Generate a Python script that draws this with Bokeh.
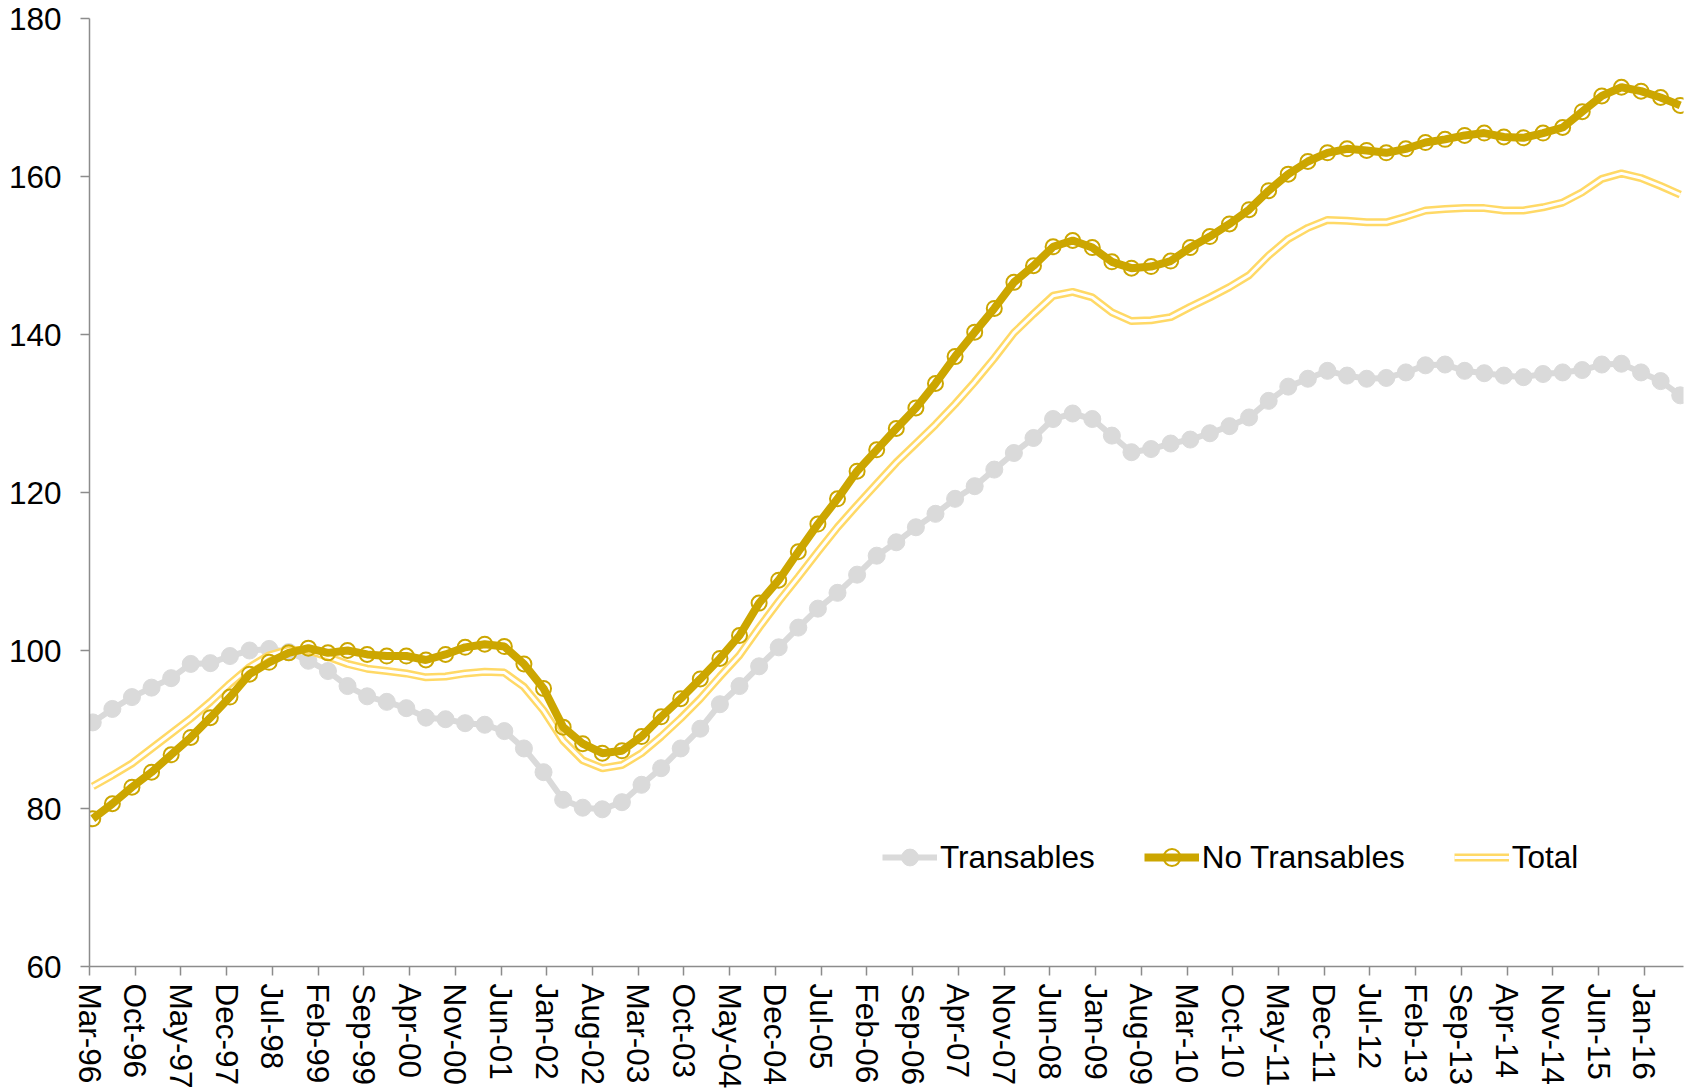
import pandas as pd
from bokeh.plotting import figure
from bokeh.models import FixedTicker, Range1d, Legend, LegendItem
from bokeh.embed import file_html
from bokeh.resources import INLINE

# Quarterly observations, Mar-96 .. Jun-16
quarters = pd.date_range("1996-03-01", "2016-06-01", freq="3MS")

transables = [
    90.9, 92.6, 94.1, 95.3, 96.5, 98.3, 98.4, 99.3, 100.0, 100.2,
    99.8, 98.7, 97.4, 95.5, 94.2, 93.5, 92.7, 91.5, 91.3, 90.8,
    90.6, 89.8, 87.6, 84.6, 81.1, 80.1, 79.9, 80.8, 83.0, 85.1,
    87.6, 90.1, 93.2, 95.5, 98.0, 100.4, 102.9, 105.3, 107.3, 109.6,
    112.0, 113.7, 115.6, 117.3, 119.2, 120.8, 122.9, 125.0, 126.9, 129.3,
    130.0, 129.3, 127.2, 125.1, 125.5, 126.2, 126.7, 127.5, 128.4, 129.5,
    131.6, 133.4, 134.4, 135.4, 134.8, 134.4, 134.5, 135.2, 136.1, 136.2,
    135.4, 135.1, 134.8, 134.6, 135.0, 135.2, 135.5, 136.2, 136.3, 135.2,
    134.1, 132.3,
]
no_transables = [
    78.7, 80.6, 82.7, 84.6, 86.8, 89.0, 91.5, 94.1, 97.0, 98.5,
    99.7, 100.3, 99.7, 100.0, 99.5, 99.3, 99.3, 98.8, 99.5, 100.4,
    100.8, 100.5, 98.3, 95.2, 90.3, 88.2, 87.0, 87.3, 89.1, 91.6,
    93.9, 96.4, 99.0, 101.9, 106.0, 108.9, 112.5, 116.0, 119.2, 122.7,
    125.4, 128.1, 130.7, 133.8, 137.2, 140.3, 143.3, 146.6, 148.7, 151.1,
    151.9, 151.0, 149.2, 148.4, 148.6, 149.3, 151.0, 152.4, 154.0, 155.8,
    158.2, 160.3, 161.9, 163.0, 163.5, 163.3, 163.0, 163.5, 164.3, 164.7,
    165.2, 165.5, 165.0, 164.9, 165.5, 166.2, 168.2, 170.2, 171.3, 170.8,
    170.0, 169.0,
]
total = [
    82.8, 84.2, 85.7, 87.6, 89.5, 91.4, 93.5, 95.8, 97.9, 99.4,
    100.1, 100.0, 99.2, 98.3, 97.7, 97.4, 97.1, 96.6, 96.7, 97.1,
    97.3, 97.2, 95.4, 92.4, 88.6, 86.1, 85.1, 85.5, 87.0, 89.1,
    91.4, 93.9, 96.7, 99.4, 102.9, 106.2, 109.3, 112.5, 115.6, 118.4,
    121.1, 123.8, 126.2, 128.6, 131.2, 134.0, 137.0, 140.2, 142.6, 144.9,
    145.4, 144.7, 142.8, 141.7, 141.8, 142.2, 143.5, 144.7, 146.0, 147.5,
    150.0, 152.1, 153.5, 154.5, 154.4, 154.2, 154.2, 154.9, 155.7, 155.9,
    156.0, 156.0, 155.7, 155.7, 156.1, 156.7, 158.0, 159.7, 160.4, 159.8,
    158.8, 157.7,
]

tick_labels = [
    "Mar-96", "Oct-96", "May-97", "Dec-97", "Jul-98", "Feb-99", "Sep-99",
    "Apr-00", "Nov-00", "Jun-01", "Jan-02", "Aug-02", "Mar-03", "Oct-03",
    "May-04", "Dec-04", "Jul-05", "Feb-06", "Sep-06", "Apr-07", "Nov-07",
    "Jun-08", "Jan-09", "Aug-09", "Mar-10", "Oct-10", "May-11", "Dec-11",
    "Jul-12", "Feb-13", "Sep-13", "Apr-14", "Nov-14", "Jun-15", "Jan-16",
]
y_ticks = [60, 80, 100, 120, 140, 160, 180]

# month index from Mar-96 (points sit in the middle of their month)
x = [(d.year - 1996) * 12 + (d.month - 3) + 0.5 for d in quarters]
tick_pos = [7 * i for i in range(len(tick_labels))]

FONT = "Liberation Sans"
FS = "31.5px"
GRAY = "#DADADA"
GOLD = "#CCA600"
LIGHT = "#FFD966"

p = figure(width=1690, height=1091, output_backend="svg", toolbar_location=None,
           x_range=Range1d(0, 244), y_range=Range1d(60, 180),
           min_border_left=89, min_border_right=7, min_border_top=18,
           min_border_bottom=122)
p.outline_line_color = None
p.xgrid.visible = False
p.ygrid.visible = False
p.background_fill_color = "white"
p.border_fill_color = "white"

for ax in (p.xaxis[0], p.yaxis[0]):
    ax.axis_line_color = "#8C8C8C"
    ax.axis_line_width = 1.5
    ax.major_tick_line_color = "#8C8C8C"
    ax.major_tick_line_width = 1.5
    ax.major_tick_out = 9
    ax.major_tick_in = 0
    ax.minor_tick_line_color = None
    ax.major_label_text_font = FONT
    ax.major_label_text_font_size = FS
    ax.major_label_text_color = "black"

p.xaxis[0].ticker = FixedTicker(ticks=tick_pos)
p.xaxis[0].major_label_overrides = {t: l for t, l in zip(tick_pos, tick_labels)}
p.xaxis[0].major_label_orientation = "vertical"
p.xaxis[0].major_label_standoff = 8
p.yaxis[0].ticker = FixedTicker(ticks=y_ticks)
p.yaxis[0].major_label_standoff = 19

r_t_line = p.line(x, transables, line_color=GRAY, line_width=6)
r_t_mark = p.scatter(x, transables, marker="circle", size=17, fill_color=GRAY, line_color=GRAY)

r_tot_a = p.line(x, total, line_color=LIGHT, line_width=8)
r_tot_b = p.line(x, total, line_color="white", line_width=3)

r_n_line = p.line(x, no_transables, line_color=GOLD, line_width=8)
r_n_mark = p.scatter(x, no_transables, marker="circle", size=15, fill_alpha=0,
                     line_color=GOLD, line_width=2)

legend = Legend(items=[
    LegendItem(label="Transables", renderers=[r_t_line, r_t_mark]),
    LegendItem(label="No Transables", renderers=[r_n_line, r_n_mark]),
    LegendItem(label="Total", renderers=[r_tot_a, r_tot_b]),
], location=(793, 88), orientation="horizontal")
legend.label_text_font = FONT
legend.label_text_font_size = FS
legend.label_text_color = "black"
legend.glyph_width = 55
legend.glyph_height = 42
legend.label_height = 42
legend.label_standoff = 3
legend.spacing = 49
legend.padding = 0
legend.margin = 0
legend.border_line_alpha = 0
legend.background_fill_alpha = 0
p.add_layout(legend)

open("out.html", "w").write(file_html(p, INLINE))
